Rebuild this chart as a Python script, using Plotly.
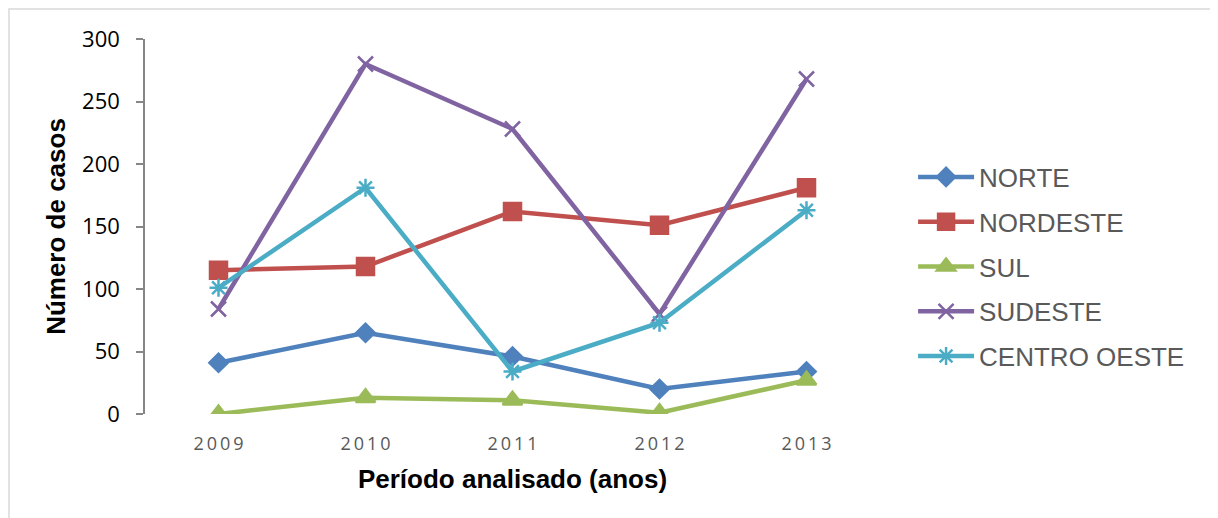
import plotly.graph_objects as go

anos = ["2009", "2010", "2011", "2012", "2013"]
rotulos_anos = ["2\u20090\u20090\u20099", "2\u20090\u20091\u20090", "2\u20090\u20091\u20091",
                "2\u20090\u20091\u20092", "2\u20090\u20091\u20093"]

norte = [41, 65, 46, 20, 34]
nordeste = [115, 118, 162, 151, 181]
sul = [0, 13, 11, 1, 27]
sudeste = [84, 280, 228, 80, 268]
centro_oeste = [101, 181, 34, 73, 163]

series = [
    ("NORTE", norte, "#4F81BD", "diamond", 14),
    ("NORDESTE", nordeste, "#C0504D", "square", 17),
    ("SUL", sul, "#9BBB59", "triangle-up", 17),
    ("SUDESTE", sudeste, "#8064A2", "x-thin-open", 15),
    ("CENTRO OESTE", centro_oeste, "#4BACC6", "asterisk-open", 15),
]

fig = go.Figure()
for nome, valores, cor, simbolo, tam in series:
    fig.add_trace(go.Scatter(
        x=anos, y=valores, name=nome, mode="lines+markers",
        legendgroup=nome,
        line=dict(color=cor, width=4.5),
        marker=dict(symbol=simbolo, size=tam, color=cor,
                    line=dict(color=cor, width=2.5)),
    ))

# the page body adds an 8px margin, so the figure is 8px smaller than the window
fig.update_layout(
    width=1210, height=510,
    margin=dict(l=137, r=338, t=31, b=104),
    plot_bgcolor="white", paper_bgcolor="white",
    font=dict(family="Liberation Sans, Arial", color="black"),
    legend=dict(
        x=1.045, y=0.392, xanchor="left", yanchor="middle",
        itemwidth=56,
        font=dict(size=26, color="#595959", family="Liberation Sans, Arial"),
        tracegroupgap=8, bgcolor="rgba(0,0,0,0)",
    ),
    xaxis=dict(
        type="category", range=[-0.5, 4.5], automargin=False,
        tickvals=anos, ticktext=rotulos_anos,
        showline=False, showgrid=False, zeroline=False,
        ticks="outside", ticklen=13, tickcolor="rgba(0,0,0,0)",
        tickfont=dict(size=18, color="#595959", family="Open Sans"),
        title=dict(text="<b>Período analisado (anos)</b>", standoff=16,
                   font=dict(size=26, family="Liberation Sans, Arial")),
    ),
    yaxis=dict(
        range=[0, 300], dtick=50, automargin=False,
        showline=True, linecolor="#868686", linewidth=1.5,
        showgrid=False, zeroline=False,
        ticks="outside", ticklen=7, tickcolor="#868686", tickwidth=1.5,
        ticklabelstandoff=12,
        tickfont=dict(size=22, color="black", family="Open Sans"),
        title=dict(text="<b>Número de casos</b>", standoff=9,
                   font=dict(size=26, family="Liberation Sans, Arial")),
    ),
    shapes=[dict(type="rect", xref="paper", yref="paper",
                 x0=(1 - 137) / 735, x1=2, y0=-2, y1=(414 - 9) / 375,
                 line=dict(color="#D9D9D9", width=1.5), layer="below")],
)

fig.write_html("out.html")
